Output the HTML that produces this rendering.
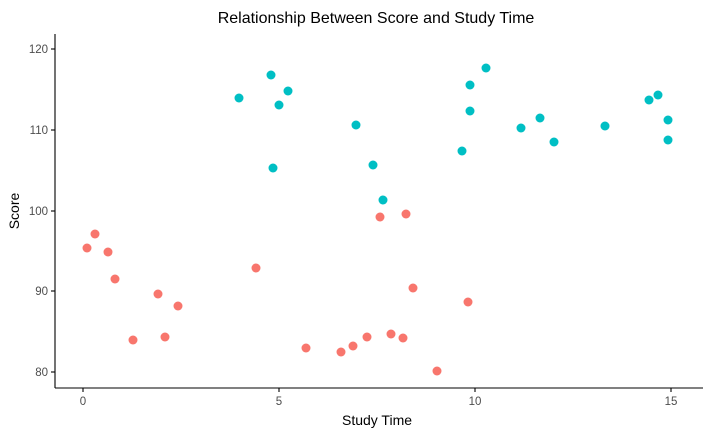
<!DOCTYPE html><html><head><style>body{margin:0;background:#fff}</style></head><body>
<svg width="709" height="435" xmlns="http://www.w3.org/2000/svg" font-family="Liberation Sans, sans-serif">
<rect width="709" height="435" fill="#fff"/>
<text x="376" y="23" text-anchor="middle" font-size="16" fill="#000">Relationship Between Score and Study Time</text>
<g stroke="#000" stroke-width="1.1">
<line x1="55" y1="388" x2="703" y2="388"/><line x1="55" y1="34" x2="55" y2="388"/>
<line x1="51" y1="49" x2="55" y2="49"/><line x1="51" y1="130" x2="55" y2="130"/><line x1="51" y1="211" x2="55" y2="211"/><line x1="51" y1="291" x2="55" y2="291"/><line x1="51" y1="372" x2="55" y2="372"/>
<line x1="83" y1="388" x2="83" y2="392"/><line x1="279" y1="388" x2="279" y2="392"/><line x1="475" y1="388" x2="475" y2="392"/><line x1="671" y1="388" x2="671" y2="392"/>
</g>
<g font-size="11.5" fill="#4d4d4d" text-anchor="end">
<text x="48" y="53">120</text><text x="48" y="134">110</text><text x="48" y="215">100</text><text x="48" y="295">90</text><text x="48" y="376">80</text></g>
<g font-size="11.5" fill="#4d4d4d" text-anchor="middle">
<text x="83" y="405">0</text><text x="279" y="405">5</text><text x="475" y="405">10</text><text x="671" y="405">15</text></g>
<text x="377" y="425" text-anchor="middle" font-size="14">Study Time</text>
<text x="19" y="211" text-anchor="middle" font-size="14" transform="rotate(-90 19 211)">Score</text>
<g fill="#F8766D">
<circle cx="87" cy="248" r="4.5"/><circle cx="95" cy="234" r="4.5"/><circle cx="108" cy="252" r="4.5"/><circle cx="115" cy="279" r="4.5"/><circle cx="133" cy="340" r="4.5"/><circle cx="158" cy="294" r="4.5"/><circle cx="165" cy="337" r="4.5"/><circle cx="178" cy="306" r="4.5"/><circle cx="256" cy="268" r="4.5"/><circle cx="306" cy="348" r="4.5"/><circle cx="341" cy="352" r="4.5"/><circle cx="353" cy="346" r="4.5"/><circle cx="367" cy="337" r="4.5"/><circle cx="380" cy="217" r="4.5"/><circle cx="391" cy="334" r="4.5"/><circle cx="403" cy="338" r="4.5"/><circle cx="406" cy="214" r="4.5"/><circle cx="413" cy="288" r="4.5"/><circle cx="437" cy="371" r="4.5"/><circle cx="468" cy="302" r="4.5"/>
</g>
<g fill="#00BFC4">
<circle cx="239" cy="98" r="4.5"/><circle cx="271" cy="75" r="4.5"/><circle cx="273" cy="168" r="4.5"/><circle cx="279" cy="105" r="4.5"/><circle cx="288" cy="91" r="4.5"/><circle cx="356" cy="125" r="4.5"/><circle cx="373" cy="165" r="4.5"/><circle cx="383" cy="200" r="4.5"/><circle cx="462" cy="151" r="4.5"/><circle cx="470" cy="85" r="4.5"/><circle cx="470" cy="111" r="4.5"/><circle cx="486" cy="68" r="4.5"/><circle cx="521" cy="128" r="4.5"/><circle cx="540" cy="118" r="4.5"/><circle cx="554" cy="142" r="4.5"/><circle cx="605" cy="126" r="4.5"/><circle cx="649" cy="100" r="4.5"/><circle cx="658" cy="95" r="4.5"/><circle cx="668" cy="120" r="4.5"/><circle cx="668" cy="140" r="4.5"/>
</g>
</svg></body></html>
